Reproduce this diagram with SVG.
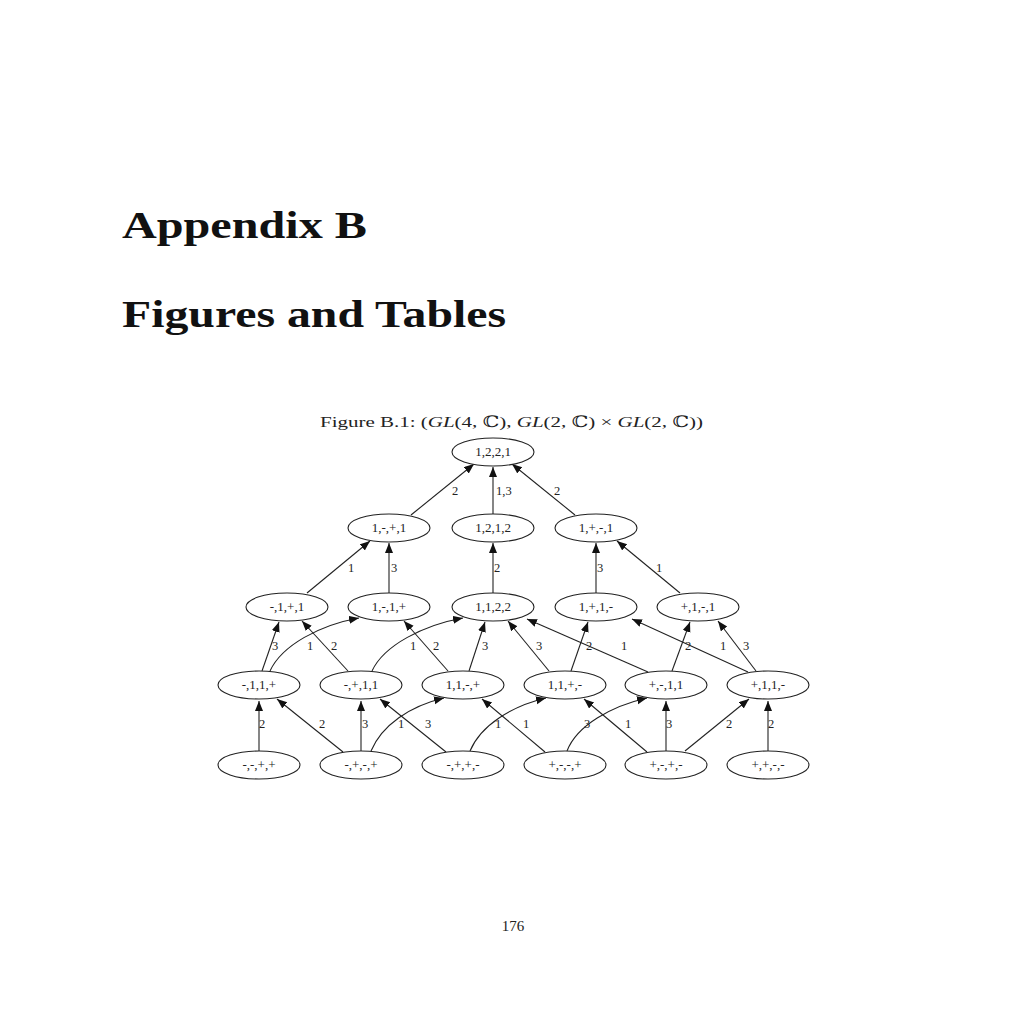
<svg xmlns="http://www.w3.org/2000/svg" width="1025" height="1025" viewBox="0 0 1025 1025">
<style>
.bg{fill:#fff}
.head{font-family:"Liberation Serif","DejaVu Serif",serif;font-weight:bold;font-size:37px;fill:#111}
.cap{font-family:"Liberation Serif","DejaVu Serif",serif;font-size:15.5px;fill:#222}
.it{font-style:italic}
.node ellipse{fill:#fff;stroke:#222;stroke-width:1.1}
.node text{font-family:"Liberation Serif","DejaVu Serif",serif;font-size:13px;fill:#222;text-anchor:middle}
.edges path{fill:none;stroke:#222;stroke-width:1.1;marker-end:url(#ah)}
.lbl{font-family:"Liberation Serif","DejaVu Serif",serif;font-size:12.5px;fill:#222}
.pg{font-family:"Liberation Serif","DejaVu Serif",serif;font-size:15px;fill:#222;text-anchor:middle}
</style>
<defs>
<marker id="ah" markerUnits="userSpaceOnUse" markerWidth="12" markerHeight="10" refX="10" refY="4" orient="auto">
<path d="M0,0 L10,4 L0,8 Z" fill="#111"/>
</marker>
</defs>
<rect class="bg" x="0" y="0" width="1025" height="1025"/>
<text class="head" x="122" y="238" textLength="245" lengthAdjust="spacingAndGlyphs">Appendix B</text>
<text class="head" x="122" y="327" textLength="384" lengthAdjust="spacingAndGlyphs">Figures and Tables</text>
<text class="cap" x="320" y="427" textLength="383" lengthAdjust="spacingAndGlyphs">Figure B.1:  (<tspan class="it">GL</tspan>(4, ℂ), <tspan class="it">GL</tspan>(2, ℂ) × <tspan class="it">GL</tspan>(2, ℂ))</text>
<text class="pg" x="513" y="931">176</text>

<g class="edges" id="connectors">
<path d="M411,515 L474,464"/>
<path d="M493,514 L493,467"/>
<path d="M575,515 L512,464"/>
<path d="M307,593 L370,541"/>
<path d="M389,593 L389,543"/>
<path d="M493,593 L493,543"/>
<path d="M596,593 L596,543"/>
<path d="M680,593 L617,541"/>
<path d="M262,671 L279,622"/>
<path d="M270,671 C282,645 320,625 359,618"/>
<path d="M348,671 L302,621"/>
<path d="M372,671 C384,645 424,625 463,618"/>
<path d="M448,671 L404,621"/>
<path d="M469,671 L485,622"/>
<path d="M549,671 L508,621"/>
<path d="M571,671 L588,622"/>
<path d="M648,672 L527,619"/>
<path d="M672,671 L690,622"/>
<path d="M748,672 L632,619"/>
<path d="M756,671 L718,621"/>
<path d="M259,751 L259,701"/>
<path d="M343,752 L277,699"/>
<path d="M361,751 L361,701"/>
<path d="M371,751 C382,725 410,706 444,698"/>
<path d="M446,752 L380,699"/>
<path d="M470,751 C481,725 512,706 546,698"/>
<path d="M545,752 L482,699"/>
<path d="M567,751 C577,725 612,706 647,698"/>
<path d="M647,752 L584,699"/>
<path d="M666,751 L666,701"/>
<path d="M685,751 L749,699"/>
<path d="M768,751 L768,701"/>
</g>

<g id="edge-labels">
<text class="lbl" x="452" y="495">2</text>
<text class="lbl" x="496" y="495">1,3</text>
<text class="lbl" x="554" y="495">2</text>
<text class="lbl" x="348" y="572">1</text>
<text class="lbl" x="391" y="572">3</text>
<text class="lbl" x="494" y="572">2</text>
<text class="lbl" x="597" y="572">3</text>
<text class="lbl" x="656" y="572">1</text>
<text class="lbl" x="272" y="650">3</text>
<text class="lbl" x="307" y="650">1</text>
<text class="lbl" x="331" y="650">2</text>
<text class="lbl" x="410" y="650">1</text>
<text class="lbl" x="433" y="650">2</text>
<text class="lbl" x="482" y="650">3</text>
<text class="lbl" x="536" y="650">3</text>
<text class="lbl" x="586" y="650">2</text>
<text class="lbl" x="621" y="650">1</text>
<text class="lbl" x="685" y="650">2</text>
<text class="lbl" x="720" y="650">1</text>
<text class="lbl" x="743" y="650">3</text>
<text class="lbl" x="259" y="728">2</text>
<text class="lbl" x="319" y="728">2</text>
<text class="lbl" x="362" y="728">3</text>
<text class="lbl" x="398" y="728">1</text>
<text class="lbl" x="425" y="728">3</text>
<text class="lbl" x="495" y="728">1</text>
<text class="lbl" x="523" y="728">1</text>
<text class="lbl" x="584" y="728">3</text>
<text class="lbl" x="625" y="728">1</text>
<text class="lbl" x="666" y="728">3</text>
<text class="lbl" x="726" y="728">2</text>
<text class="lbl" x="768" y="728">2</text>
</g>

<g class="node" id="n1221"><ellipse cx="493" cy="452" rx="41" ry="14"/><text x="493" y="456">1,2,2,1</text></g>

<g class="node" id="n1mp1"><ellipse cx="389" cy="528" rx="41" ry="14"/><text x="389" y="532">1,-,+,1</text></g>
<g class="node" id="n1212"><ellipse cx="493" cy="528" rx="41" ry="14"/><text x="493" y="532">1,2,1,2</text></g>
<g class="node" id="n1pm1"><ellipse cx="596" cy="528" rx="41" ry="14"/><text x="596" y="532">1,+,-,1</text></g>

<g class="node" id="nm1p1"><ellipse cx="287" cy="607" rx="41" ry="14"/><text x="287" y="611">-,1,+,1</text></g>
<g class="node" id="n1m1p"><ellipse cx="389" cy="607" rx="41" ry="14"/><text x="389" y="611">1,-,1,+</text></g>
<g class="node" id="n1122"><ellipse cx="493" cy="607" rx="41" ry="14"/><text x="493" y="611">1,1,2,2</text></g>
<g class="node" id="n1p1m"><ellipse cx="596" cy="607" rx="41" ry="14"/><text x="596" y="611">1,+,1,-</text></g>
<g class="node" id="np1m1"><ellipse cx="698" cy="607" rx="41" ry="14"/><text x="698" y="611">+,1,-,1</text></g>

<g class="node" id="nm11p"><ellipse cx="259" cy="685" rx="41" ry="14"/><text x="259" y="689">-,1,1,+</text></g>
<g class="node" id="nmp11"><ellipse cx="361" cy="685" rx="41" ry="14"/><text x="361" y="689">-,+,1,1</text></g>
<g class="node" id="n11mp"><ellipse cx="463" cy="685" rx="41" ry="14"/><text x="463" y="689">1,1,-,+</text></g>
<g class="node" id="n11pm"><ellipse cx="565" cy="685" rx="41" ry="14"/><text x="565" y="689">1,1,+,-</text></g>
<g class="node" id="npm11"><ellipse cx="666" cy="685" rx="41" ry="14"/><text x="666" y="689">+,-,1,1</text></g>
<g class="node" id="np11m"><ellipse cx="768" cy="685" rx="41" ry="14"/><text x="768" y="689">+,1,1,-</text></g>

<g class="node" id="nmmpp"><ellipse cx="259" cy="765" rx="41" ry="14"/><text x="259" y="769">-,-,+,+</text></g>
<g class="node" id="nmpmp"><ellipse cx="361" cy="765" rx="41" ry="14"/><text x="361" y="769">-,+,-,+</text></g>
<g class="node" id="nmppm"><ellipse cx="463" cy="765" rx="41" ry="14"/><text x="463" y="769">-,+,+,-</text></g>
<g class="node" id="npmmp"><ellipse cx="565" cy="765" rx="41" ry="14"/><text x="565" y="769">+,-,-,+</text></g>
<g class="node" id="npmpm"><ellipse cx="666" cy="765" rx="41" ry="14"/><text x="666" y="769">+,-,+,-</text></g>
<g class="node" id="nppmm"><ellipse cx="768" cy="765" rx="41" ry="14"/><text x="768" y="769">+,+,-,-</text></g>
</svg>
